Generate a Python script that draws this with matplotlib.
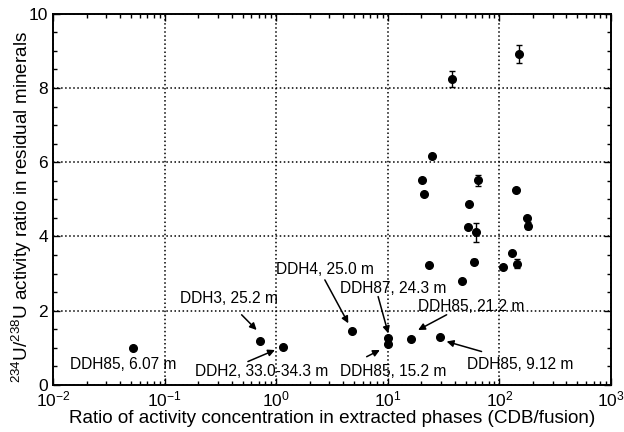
import matplotlib
matplotlib.use('Agg')
import matplotlib.pyplot as plt
from matplotlib.ticker import MultipleLocator, LogLocator, NullFormatter

plt.rcParams['font.family'] = ['Liberation Sans', 'DejaVu Sans']
plt.rcParams['mathtext.fontset'] = 'custom'
plt.rcParams['mathtext.rm'] = 'Liberation Sans'
plt.rcParams['mathtext.it'] = 'Liberation Sans:italic'

# ratio CDB/fusion vs 234U/238U in residual minerals
ratio = [0.052, 0.71, 1.15, 4.74, 10.0, 10.0, 16.1, 29.4, 46.2, 23.4, 59, 107, 129, 143,
         52.6, 61.4, 53.7, 176, 182, 20.1, 21.2, 24.7, 64.7, 141, 37.3, 150]
u_ratio = [0.99, 1.17, 1.02, 1.46, 1.27, 1.11, 1.24, 1.29, 2.80, 3.23, 3.32, 3.19, 3.55, 3.26,
           4.25, 4.11, 4.88, 4.51, 4.29, 5.53, 5.14, 6.17, 5.51, 5.24, 8.24, 8.92]
u_err = [0, 0, 0, 0, 0, 0, 0, 0, 0, 0, 0.06, 0, 0, 0.12,
         0, 0.26, 0, 0, 0.1, 0, 0, 0, 0.15, 0, 0.22, 0.24]

# labels: text, arrow head, where the text starts, arrow tail (None = no arrow)
labels = ['DDH85, 6.07 m', 'DDH3, 25.2 m', 'DDH2, 33.0-34.3 m', 'DDH4, 25.0 m',
          'DDH87, 24.3 m', 'DDH85, 21.2 m', 'DDH85, 15.2 m', 'DDH85, 9.12 m']
arrow_head = [None, (0.668, 1.48), (0.975, 0.94), (4.43, 1.66),
              (10.1, 1.39), (18.7, 1.48), (8.5, 0.94), (33.7, 1.17)]
label_text = [(0.0142, 0.54), (0.137, 2.34), (0.187, 0.36), (1.0, 3.1),
              (3.73, 2.59), (18.7, 2.1), (3.73, 0.36), (51.3, 0.54)]
arrow_tail = [None, (0.49, 1.89), (0.558, 0.63), (2.73, 2.83),
              (8.2, 2.38), (33.7, 1.89), (6.47, 0.76), (69.3, 0.9)]

fig = plt.figure(figsize=(6.24, 4.32), dpi=100)
ax = fig.add_axes([0.085, 0.109, 0.894, 0.859])

ax.errorbar(ratio, u_ratio, yerr=u_err, fmt='o', color='black', ms=5.5,
            ecolor='black', elinewidth=1, capsize=2.5, capthick=1)

for txt, head, pos, tail in zip(labels, arrow_head, label_text, arrow_tail):
    ax.text(pos[0], pos[1], txt, fontsize=11.2, ha='left', va='center')
    if tail is not None:
        ax.annotate('', xy=head, xytext=tail,
                    arrowprops=dict(arrowstyle='-|>', color='black', lw=1.1,
                                    mutation_scale=10, shrinkA=0, shrinkB=0))

ax.set_xscale('log')
ax.set_xlim(1e-2, 1e3)
ax.set_ylim(0, 10)
ax.yaxis.set_major_locator(MultipleLocator(2))
ax.yaxis.set_minor_locator(MultipleLocator(0.5))
ax.xaxis.set_minor_locator(LogLocator(base=10, subs=range(2, 10)))
ax.xaxis.set_minor_formatter(NullFormatter())

ax.grid(True, which='major', linestyle=':', color='black', linewidth=1.1)
ax.tick_params(which='both', direction='in', top=True, right=True, labelsize=12.5)
ax.tick_params(axis='x', pad=3)
ax.tick_params(which='major', length=5, width=1)
ax.tick_params(which='minor', length=3, width=1)
for s in ax.spines.values():
    s.set_linewidth(1.4)

ax.set_xlabel('Ratio of activity concentration in extracted phases (CDB/fusion)', fontsize=13.6)
ax.set_ylabel('$^{234}$U/$^{238}$U activity ratio in residual minerals', fontsize=13.6)
ax.xaxis.set_label_coords(0.5, -0.09)
ax.xaxis.label.set_va('center')
ax.yaxis.set_label_coords(-0.056, 0.48)
ax.yaxis.label.set_va('center')

fig.savefig('out.png', dpi=100)
